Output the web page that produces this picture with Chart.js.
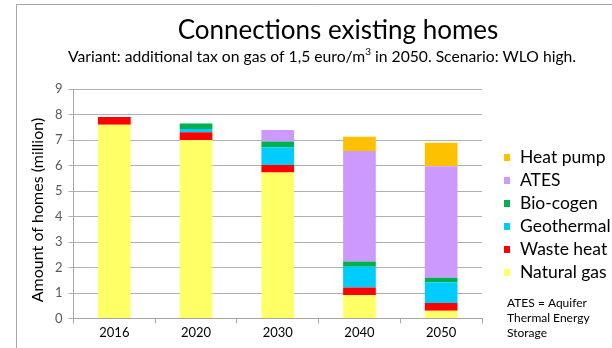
<!DOCTYPE html>
<html>
<head>
<meta charset="utf-8">
<script src="https://cdn.jsdelivr.net/npm/chart.js@4"></script>
<style>
  html, body { margin: 0; padding: 0; background: #fff; }
  #wrap { position: relative; width: 612px; height: 348px; }
</style>
</head>
<body>
<div id="wrap"><canvas id="chartHomes" width="612" height="348"></canvas></div>
<script>
// ── Données ──────────────────────────────
const years      = ['2016', '2020', '2030', '2040', '2050'];
const naturalGas = [7.6, 7.0, 5.73, 0.92, 0.30];
const wasteHeat  = [0.3, 0.3, 0.29, 0.30, 0.31];
const geothermal = [0, 0.13, 0.70, 0.81, 0.81];
const bioCogen   = [0, 0.22, 0.22, 0.21, 0.18];
const ates       = [0, 0, 0.45, 4.33, 4.37];
const heatPump   = [0, 0, 0, 0.56, 0.92];
const yTicks     = [0, 1, 2, 3, 4, 5, 6, 7, 8, 9];

const FONT = 'Lato, "Open Sans", sans-serif';

// ── Titre, légende, cadre ──────────────────────────────
const decor = {
  id: 'decor',
  afterDraw(chart) {
    const c = chart.ctx;
    c.save();
    // cadre (haut + gauche)
    c.strokeStyle = '#a6a6a6';
    c.lineWidth = 1;
    c.beginPath();
    c.moveTo(16.5, 348); c.lineTo(16.5, 4.5); c.lineTo(612, 4.5);
    c.stroke();

    c.fillStyle = '#000';
    c.textAlign = 'center';
    c.textBaseline = 'middle';
    c.font = '26px ' + FONT;
    c.fillText('Connections existing homes', 338, 31);

    // sous-titre avec exposant
    const sub1 = 'Variant: additional tax on gas of 1,5 euro/m';
    const sub2 = ' in 2050. Scenario: WLO high.';
    c.font = '15.7px ' + FONT;
    const w1 = c.measureText(sub1).width, w2 = c.measureText(sub2).width;
    c.font = '10px ' + FONT;
    const w3 = c.measureText('3').width;
    const x0 = 322 - (w1 + w2 + w3) / 2;
    c.textAlign = 'left';
    c.font = '15.7px ' + FONT;
    c.fillText(sub1, x0, 57);
    c.font = '10px ' + FONT;
    c.fillText('3', x0 + w1, 52);
    c.font = '15.7px ' + FONT;
    c.fillText(sub2, x0 + w1 + w3, 57);

    // titre de l'axe Y
    c.save();
    c.translate(38, 210);
    c.rotate(-Math.PI / 2);
    c.textAlign = 'center';
    c.font = '16px ' + FONT;
    c.fillText('Amount of homes (million)', 0, 0);
    c.restore();

    // légende (ordre inverse de la pile)
    const ds = chart.data.datasets.slice().reverse();
    c.font = '17.5px ' + FONT;
    ds.forEach((d, i) => {
      const y = 157 + i * 23;
      c.fillStyle = d.backgroundColor;
      c.fillRect(504, y - 3, 6, 7);
      c.fillStyle = '#000';
      c.fillText(d.label, 520, y);
    });
    c.font = '12px ' + FONT;
    ['ATES = Aquifer', 'Thermal Energy', 'Storage'].forEach((t, i) => {
      c.fillText(t, 507, 303 + i * 15);
    });
    c.restore();
  }
};

new Chart(document.getElementById('chartHomes'), {
  type: 'bar',
  data: {
    labels: years,
    datasets: [
      { label: 'Natural gas', data: naturalGas, backgroundColor: '#ffff66' },
      { label: 'Waste heat',  data: wasteHeat,  backgroundColor: '#ff0000' },
      { label: 'Geothermal',  data: geothermal, backgroundColor: '#00ccff' },
      { label: 'Bio-cogen',   data: bioCogen,   backgroundColor: '#00b050' },
      { label: 'ATES',        data: ates,       backgroundColor: '#cc99ff' },
      { label: 'Heat pump',   data: heatPump,   backgroundColor: '#ffc000' },
    ]
  },
  options: {
    responsive: false,
    animation: false,
    barPercentage: 0.4,
    categoryPercentage: 1,
    layout: { padding: { left: 16, right: 130, top: 89, bottom: 0 } },
    plugins: { legend: { display: false }, tooltip: { enabled: false } },
    scales: {
      x: {
        stacked: true,
        grid: { offset: true, drawOnChartArea: false, color: '#a6a6a6', tickLength: 5 },
        border: { color: '#a6a6a6' },
        ticks: { color: '#000', font: { family: FONT, size: 13 }, padding: 2 },
        afterFit: s => { s.height = 29.5; }
      },
      y: {
        stacked: true,
        min: 0, max: 9,
        afterBuildTicks: s => { s.ticks = yTicks.map(v => ({ value: v })); },
        grid: { color: '#b0b0b0', tickLength: 5 },
        border: { color: '#a6a6a6' },
        ticks: { color: '#595959', font: { family: FONT, size: 13 }, padding: 6 },
        afterFit: s => { s.width = 57.5; }
      }
    }
  },
  plugins: [decor]
});
</script>
</body>
</html>
